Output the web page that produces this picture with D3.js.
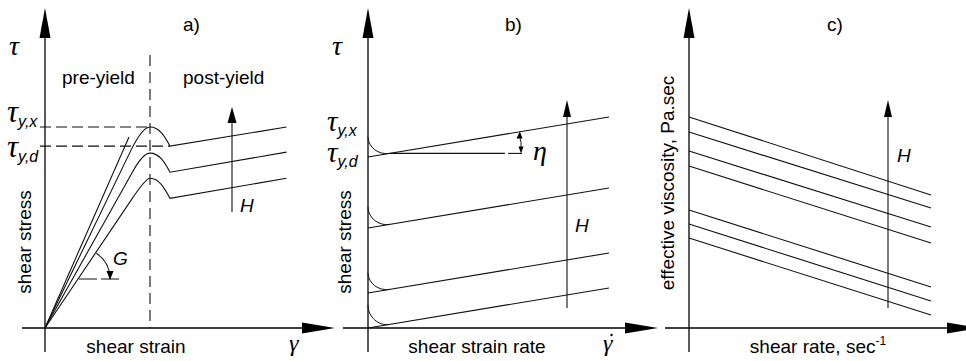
<!DOCTYPE html>
<html><head><meta charset="utf-8">
<script src="https://cdn.jsdelivr.net/npm/d3@7"></script>
<style>
body{margin:0;background:#fff}
svg{display:block}
text{font-family:"Liberation Sans",Arial,sans-serif;fill:#000}
.gk{font-family:"Liberation Serif","Times New Roman",serif;font-style:italic}
.it{font-style:italic}
</style>
</head><body><script>
const W = 966, H = 361;

// a) stress-strain curves with a yield hump, one per field strength (top = strongest)
const aYieldStrain = 4.0;
const aDropStrain = 4.76;
const aEndStrain = 9.2;
const aKneeStrain = [3.24, 3.35, 3.3];
const aKneeStress = [8.75, 7.8, 6.4];
const aPeakStress = [10.0, 8.7, 7.45];
const aDropStress = [9.05, 7.75, 6.45];
const aEndStress = [10.0, 8.75, 7.45];
// additional straight elastic line from the origin
const aExtraLine = [[0, 0], [3.2, 9.5]];

// b) flow curves: static yield at zero rate, then linear branch from the dynamic yield
const bStaticYield = [9.55, 6.05, 2.75, 1.15];
const bDynamicYield = [8.55, 5.0, 1.75, 0.0];
const bViscosity = 0.2;
const bTangentRate = 0.9;
const bEndRate = 10;

// c) effective viscosity falling with shear rate
const cStartVisc = [10.55, 9.8, 8.85, 8.1, 5.9, 5.2, 4.5];
const cEndVisc = [6.65, 6.0, 5.05, 4.25, 2.05, 1.35, 0.65];
const cEndRate = 10;

const svg = d3.select("body").append("svg").attr("width", W).attr("height", H);

const xA = d3.scaleLinear().domain([0, 4]).range([45, 150]);
const yA = d3.scaleLinear().domain([0, 10]).range([328, 127]);
const xB = d3.scaleLinear().domain([0, 10]).range([368, 609]);
const yB = d3.scaleLinear().domain([0, 10]).range([328, 128]);
const xC = d3.scaleLinear().domain([0, 10]).range([689, 931]);
const yC = d3.scaleLinear().domain([0, 10]).range([328, 128]);

const INK = "#000";
const CURVE = "#111";

function axes(ox, oy, left, right, bottom, top) {
  const g = svg.append("g");
  g.append("line").attr("x1", ox).attr("y1", bottom).attr("x2", ox).attr("y2", top + 28)
    .attr("stroke", INK).attr("stroke-width", 1.3);
  g.append("path").attr("d", `M${ox - 5.5},${top + 30}L${ox},${top}L${ox + 5.5},${top + 30}Z`).attr("fill", INK);
  g.append("line").attr("x1", left).attr("y1", oy).attr("x2", right - 30).attr("y2", oy)
    .attr("stroke", INK).attr("stroke-width", 1.3);
  g.append("path").attr("d", `M${right - 33},${oy - 5.5}L${right},${oy}L${right - 33},${oy + 5.5}Z`).attr("fill", INK);
}

function arrowUp(x, yBottom, yTip, w, len) {
  svg.append("line").attr("x1", x).attr("y1", yBottom).attr("x2", x).attr("y2", yTip + len - 2)
    .attr("stroke", CURVE).attr("stroke-width", 1.1);
  svg.append("path").attr("d", `M${x - w / 2},${yTip + len}L${x},${yTip}L${x + w / 2},${yTip + len}Z`).attr("fill", INK);
}

function seg(x1, y1, x2, y2, dash, sw) {
  svg.append("line").attr("x1", x1).attr("y1", y1).attr("x2", x2).attr("y2", y2)
    .attr("stroke", CURVE).attr("stroke-width", sw || 1.1)
    .attr("stroke-dasharray", dash || null);
}

function label(x, y, txt, size, cls, anchor) {
  return svg.append("text").attr("x", x).attr("y", y).attr("font-size", size)
    .attr("class", cls || null).attr("text-anchor", anchor || "start").text(txt);
}

function tauLabel(x, y, sub, subDy, size) {
  const t = svg.append("text").attr("x", x).attr("y", y);
  t.append("tspan").attr("class", "gk").attr("font-size", size || 31).text("τ");
  t.append("tspan").attr("class", "it").attr("font-size", 16).attr("dy", subDy).text(sub);
}

// ---------- panel a ----------
axes(xA(0), yA(0), 22, 335, 352, 8);

// yield strain marker and yield stress levels
seg(xA(aYieldStrain), 55, xA(aYieldStrain), yA(0), "11,6");
seg(40, yA(aPeakStress[0]), xA(aYieldStrain), yA(aPeakStress[0]), "11,5");
seg(40, yA(aDropStress[0]), xA(aDropStrain), yA(aDropStress[0]), "11,5");

seg(xA(aExtraLine[0][0]), yA(aExtraLine[0][1]), xA(aExtraLine[1][0]), yA(aExtraLine[1][1]));

aPeakStress.forEach((peak, i) => {
  const k = aKneeStress[i] / aKneeStrain[i];
  const ctrlStrain = peak / k;
  const p = d3.path();
  p.moveTo(xA(0), yA(0));
  p.lineTo(xA(aKneeStrain[i]), yA(aKneeStress[i]));
  p.quadraticCurveTo(xA(ctrlStrain), yA(peak), xA(aYieldStrain), yA(peak));
  p.bezierCurveTo(xA(aYieldStrain + 0.35), yA(peak), xA(aDropStrain - 0.2), yA(aDropStress[i] + 0.5),
    xA(aDropStrain), yA(aDropStress[i]));
  p.lineTo(xA(aEndStrain), yA(aEndStress[i]));
  svg.append("path").attr("d", p.toString()).attr("fill", "none")
    .attr("stroke", CURVE).attr("stroke-width", 1.1);
});

// shear modulus G angle
{
  const k = aKneeStress[2] / aKneeStrain[2];
  const cx = 79, cy = 279, r = 31;
  seg(cx, cy, 121, cy, "18,4");
  const ang = Math.atan2(k * 20.1, 26.25);
  const arc = d3.path();
  arc.arc(cx, cy, r, -ang, -0.02, false);
  svg.append("path").attr("d", arc.toString()).attr("fill", "none").attr("stroke", CURVE).attr("stroke-width", 1.1);
  svg.append("path").attr("d", `M${cx + r - 3.5},${cy - 8}L${cx + r},${cy + 1}L${cx + r + 3.5},${cy - 8}Z`).attr("fill", INK);
}

arrowUp(232, 212, 107, 9, 16);

label(9, 55, "τ", 28, "gk");
tauLabel(7, 122, "y,x", 5);
tauLabel(7, 157, "y,d", 5);
label(183, 31, "a)", 19);
label(62, 84, "pre-yield", 19);
label(183, 84, "post-yield", 19);
label(240, 212, "H", 19, "it");
label(113, 265, "G", 19, "it");
label(136, 353, "shear strain", 19, null, "middle");
label(289, 351, "γ", 24, "gk");
label(0, 0, "shear stress", 19, null, "middle").attr("transform", "translate(31,242) rotate(-90)");

// ---------- panel b ----------
axes(xB(0), yB(0), 343, 658, 352, 8);

bDynamicYield.forEach((ty, i) => {
  const x0 = xB(0), y0 = yB(bStaticYield[i]);
  const tx = xB(bTangentRate), ty2 = yB(ty + bViscosity * bTangentRate);
  const slope = (yB(ty + bViscosity * bEndRate) - yB(ty)) / (xB(bEndRate) - xB(0));
  const c = d3.path();
  c.moveTo(x0, y0);
  c.bezierCurveTo(x0, y0 + 0.62 * (ty2 - y0), tx - 11, ty2 - 11 * slope, tx, ty2);
  svg.append("path").attr("d", c.toString()).attr("fill", "none").attr("stroke", CURVE).attr("stroke-width", 1.0);
  seg(xB(0), yB(ty), xB(bEndRate), yB(ty + bViscosity * bEndRate));
});

// plastic viscosity angle
{
  const lvl = bDynamicYield[0] + bViscosity * bTangentRate;
  const rEnd = 5.68, rDash = 5.82, rArc = 6.35;
  seg(xB(bTangentRate), yB(lvl), xB(rEnd), yB(lvl));
  seg(xB(rDash), yB(lvl), xB(rArc) + 1, yB(lvl));
  const ax = xB(rArc);
  const yTop = yB(bDynamicYield[0] + bViscosity * rArc);
  const yBot = yB(lvl);
  svg.append("path").attr("d", `M${ax - 1.5},${yTop + 4}Q${ax + 0.8},${(yTop + yBot) / 2} ${ax},${yBot - 4}`)
    .attr("fill", "none").attr("stroke", CURVE).attr("stroke-width", 1);
  svg.append("path").attr("d", `M${ax - 4.5},${yTop + 7}L${ax - 1.2},${yTop}L${ax + 1.5},${yTop + 7}Z`).attr("fill", INK);
  svg.append("path").attr("d", `M${ax - 2.5},${yBot - 7}L${ax},${yBot}L${ax + 2.5},${yBot - 7}Z`).attr("fill", INK);
}

arrowUp(567, 308, 100, 8, 17);

label(332, 55, "τ", 28, "gk");
tauLabel(327, 131, "y,x", 5, 29);
tauLabel(327, 162, "y,d", 5, 29);
label(505, 31, "b)", 19);
label(575, 232, "H", 19, "it");
label(533, 160, "η", 28, "gk");
label(477, 353, "shear strain rate", 19, null, "middle");
label(603, 351, "γ", 24, "gk");
svg.append("circle").attr("cx", 611.5).attr("cy", 335).attr("r", 1.2).attr("fill", INK);
label(0, 0, "shear stress", 19, null, "middle").attr("transform", "translate(351,242) rotate(-90)");

// ---------- panel c ----------
axes(xC(0), yC(0), 665, 980, 352, 8);

cStartVisc.forEach((v, i) => {
  seg(xC(0), yC(v), xC(cEndRate), yC(cEndVisc[i]));
});

arrowUp(888, 308, 100, 8, 17);

label(827, 31, "c)", 19);
label(897, 162, "H", 19, "it");
{
  const t = svg.append("text").attr("x", 818).attr("y", 353).attr("font-size", 19).attr("text-anchor", "middle");
  t.append("tspan").text("shear rate, sec");
  t.append("tspan").attr("font-size", 12).attr("dy", -8).text("-1");
}
label(0, 0, "effective viscosity, Pa.sec", 19, null, "middle").attr("transform", "translate(674,183) rotate(-90)");
</script></body></html>
